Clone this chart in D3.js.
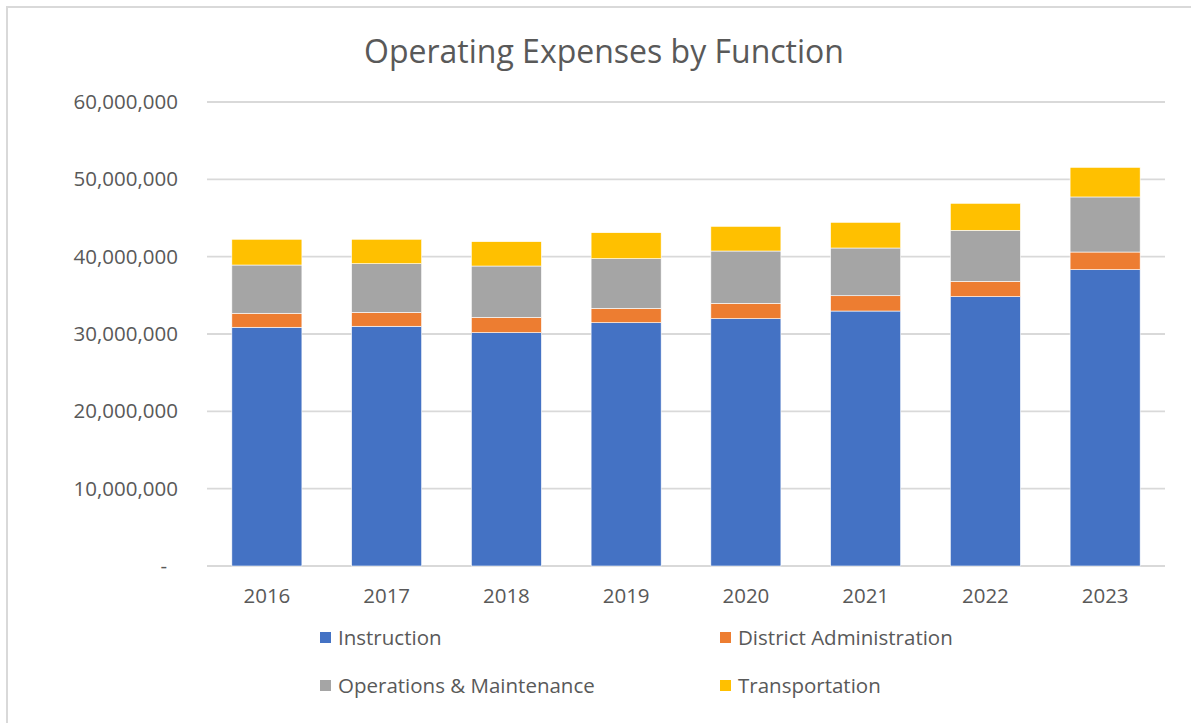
<!DOCTYPE html>
<html>
<head>
<meta charset="utf-8">
<script src="https://cdn.jsdelivr.net/npm/d3@7"></script>
<style>
  body { margin: 0; background: #fff; overflow: hidden; }
  text { font-family: "Open Sans", "Noto Sans", sans-serif; fill: #595959; }
</style>
</head>
<body>
<div id="chart"></div>
<script>
// Données
let years = ["2016", "2017", "2018", "2019", "2020", "2021", "2022", "2023"];
let instruction = [30870000, 31000000, 30170000, 31460000, 31980000, 32970000, 34830000, 38320000];
let districtAdmin = [1810000, 1800000, 1990000, 1860000, 1990000, 1980000, 1980000, 2280000];
let operations = [6240000, 6290000, 6630000, 6420000, 6760000, 6170000, 6600000, 7120000];
let transportation = [3330000, 3160000, 3150000, 3360000, 3190000, 3320000, 3490000, 3830000];
let seriesNames = ["Instruction", "District Administration", "Operations & Maintenance", "Transportation"];
let seriesColors = ["#4472c4", "#ed7d31", "#a5a5a5", "#ffc000"];
let yTicks = [0, 10000000, 20000000, 30000000, 40000000, 50000000, 60000000];

let W = 1191, H = 723;
let margins = { left: 207, right: 26, top: 102, bottom: 157 };
let width = W - margins.left - margins.right;
let height = H - margins.top - margins.bottom;

let svg = d3.select("#chart").append("svg")
            .attr("width", W)
            .attr("height", H)
            .style("display", "block");

// Cadre du graphique (seuls les bords haut et gauche sont visibles)
svg.append("path")
   .attr("d", `M7,${H} V7 H${W}`)
   .attr("fill", "none")
   .attr("stroke", "#d9d9d9")
   .attr("stroke-width", 2);

svg.append("text")
   .attr("x", 604)
   .attr("y", 63)
   .attr("text-anchor", "middle")
   .style("font-size", "32px")
   .text("Operating Expenses by Function");

let g = svg.append("g")
           .attr("transform", `translate(${margins.left},${margins.top})`);

let xScale = d3.scaleBand().domain(years).range([0, width]).paddingInner(0.415).paddingOuter(0.2075);
let yScale = d3.scaleLinear().domain([0, 60000000]).range([height, 0]);

// Grille
g.append("g")
 .selectAll("line")
 .data(yTicks)
 .enter()
 .append("line")
 .attr("x1", 0).attr("x2", width)
 .attr("y1", d => yScale(d)).attr("y2", d => yScale(d))
 .attr("stroke", "#d9d9d9")
 .attr("stroke-width", 1.8);

// Axe Y
let fmt = d3.format(",");
let yAxis = g.append("g")
             .call(d3.axisLeft(yScale).tickValues(yTicks).tickSize(0).tickPadding(29)
                     .tickFormat(d => d === 0 ? "-" : fmt(d)));
yAxis.select(".domain").remove();
yAxis.selectAll("text")
     .style("font-size", "20.5px")
     .attr("fill", "#595959")
     .attr("font-family", null)
     .attr("dx", d => d === 0 ? -11 : 0);

// Barres empilées
let table = years.map((y, i) => ({
  year: y,
  "Instruction": instruction[i],
  "District Administration": districtAdmin[i],
  "Operations & Maintenance": operations[i],
  "Transportation": transportation[i]
}));
let stacked = d3.stack().keys(seriesNames)(table);
let color = d3.scaleOrdinal().domain(seriesNames).range(seriesColors);

g.append("g")
 .selectAll("g")
 .data(stacked)
 .enter()
 .append("g")
 .attr("fill", d => color(d.key))
 .selectAll("rect")
 .data(d => d)
 .enter()
 .append("rect")
 .attr("x", d => xScale(d.data.year))
 .attr("width", xScale.bandwidth())
 .attr("y", d => yScale(d[1]))
 .attr("height", d => yScale(d[0]) - yScale(d[1]))
 .attr("stroke", "#ffffff")
 .attr("stroke-width", 0.6);

// Axe X
let xAxis = g.append("g")
             .attr("transform", `translate(0,${height})`)
             .call(d3.axisBottom(xScale).tickSize(0).tickPadding(22));
xAxis.select(".domain").remove();
xAxis.selectAll("text")
     .style("font-size", "20.5px")
     .attr("fill", "#595959")
     .attr("font-family", null);

// Légende
let legendPos = [[320, 638], [720, 638], [320, 686], [720, 686]];
let legend = svg.append("g")
                .selectAll("g")
                .data(seriesNames)
                .enter()
                .append("g")
                .attr("transform", (d, i) => `translate(${legendPos[i][0]},${legendPos[i][1]})`);
legend.append("rect")
      .attr("x", 0).attr("y", -6)
      .attr("width", 11).attr("height", 11)
      .attr("fill", d => color(d));
legend.append("text")
      .attr("x", 18)
      .attr("y", 0)
      .attr("dy", "0.35em")
      .style("font-size", "20.5px")
      .text(d => d);
</script>
</body>
</html>
